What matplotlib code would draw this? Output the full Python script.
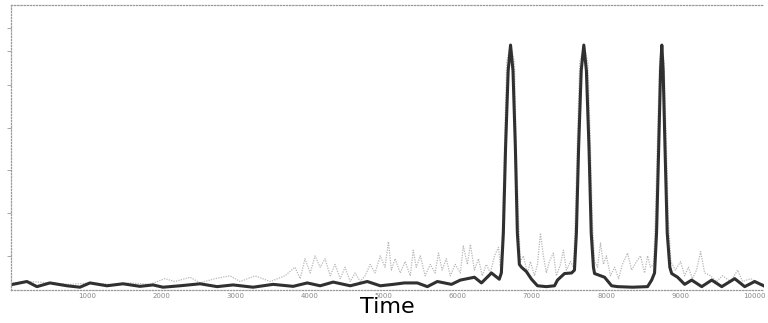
import matplotlib
matplotlib.use("Agg")
import matplotlib.pyplot as plt

# Dark trace (time, intensity)
dark_t = [0, 190, 325, 500, 730, 905, 1040, 1270, 1485, 1715, 1890, 2025, 2255, 2525,
          2755, 2970, 3240, 3510, 3780, 3970, 4145, 4320, 4550, 4780, 4955, 5130, 5280,
          5455, 5590, 5725, 5915, 6035, 6225, 6320, 6455, 6560,
          6588, 6615, 6645, 6680, 6712, 6745, 6777, 6804, 6831,
          6860, 6925, 6995, 7075, 7195, 7305, 7345, 7440, 7535,
          7574, 7600, 7630, 7665, 7700, 7735, 7770, 7800, 7830,
          7845, 7980, 8075, 8155, 8355, 8560, 8615,
          8654, 8681, 8710, 8735, 8752, 8770, 8795, 8825, 8860,
          8885, 8965, 9060, 9155, 9290, 9425, 9560, 9735, 9870, 10005, 10125]
dark_v = [2, 3, 1.2, 2.5, 1.5, 1, 2.5, 1.5, 2.2, 1.3, 1.8, 1.0, 1.5, 2.2,
          1.2, 1.8, 1.0, 2, 1.3, 2.5, 1.5, 2.8, 1.5, 3, 1.5, 2.0, 2.5,
          2.5, 1.2, 3, 2, 3.5, 4.5, 2.5, 6, 3.8,
          6, 20, 50, 77, 86, 77, 50, 20, 9,
          8, 6.5, 3.8, 1.5, 1.2, 1.5, 3.5, 5.8, 6,
          7, 20, 50, 77, 86, 77, 50, 20, 8,
          5.8, 4.5, 1.5, 1.2, 1, 1.2, 3.5,
          6, 20, 50, 77, 86, 77, 50, 20, 8,
          5.8, 4.5, 2, 3.5, 1.2, 3.5, 1.2, 4, 1.2, 3, 1.5]

# Light noisy trace (time, intensity)
light_t = [0, 230, 500, 770, 1040, 1310, 1580, 1850, 2050, 2185, 2390, 2525, 2725, 2930,
           3065, 3265, 3470, 3670, 3805, 3875, 3940, 4010, 4075, 4145, 4210, 4280, 4345,
           4415, 4480, 4550, 4615, 4685, 4750, 4820, 4885, 4955, 5020, 5065, 5105, 5155,
           5225, 5290, 5360, 5400, 5440, 5495, 5560, 5630, 5695, 5740, 5790, 5845, 5900,
           5965, 6035, 6075, 6130, 6170, 6225, 6280, 6330, 6385, 6440, 6495, 6550, 6575,
           6600, 6630, 6660, 6712, 6765, 6790, 6820, 6845,
           6885, 6940, 6980, 7035, 7075, 7115, 7155, 7195, 7235, 7290, 7330, 7385, 7425,
           7465, 7520, 7560,
           7585, 7615, 7645, 7700, 7755, 7785, 7815, 7845,
           7885, 7925, 7965, 8005, 8060, 8115, 8170, 8220, 8290, 8345, 8410, 8465, 8520,
           8560, 8600, 8640,
           8665, 8695, 8722, 8752, 8782, 8810, 8840, 8875,
           8935, 9005, 9060, 9110, 9165, 9220, 9275, 9330, 9410, 9490, 9570, 9680, 9775,
           9840, 9950, 10045, 10125]
light_v = [2.5, 3, 2.5, 2, 2.5, 2, 2.5, 2, 4, 3, 4.5, 2.5, 4, 5,
           3, 5, 3, 5, 8, 4, 11, 6, 12, 8, 11, 5, 9,
           4, 8, 3, 6, 3, 5, 9, 6, 12, 8, 17, 7, 11,
           6, 10, 5, 14, 8, 12, 5, 9, 6, 13, 7, 11, 5,
           9, 6, 15.5, 9, 16, 7, 11, 5, 9, 6, 12, 15, 8,
           20, 50, 80, 86, 80, 50, 25, 10,
           12, 6, 10, 5, 9, 20, 12, 6, 10, 13, 5, 9, 14,
           7, 10, 8,
           25, 55, 80, 86, 80, 55, 25, 10,
           8, 16.5, 9, 12, 5, 8, 4, 9, 13, 7, 10, 12, 6,
           12, 8, 9,
           25, 55, 80, 86, 80, 55, 25, 10,
           7, 10, 5, 8, 4, 7, 13.5, 6, 5, 3, 5, 3, 7,
           3, 4, 2.5, 2]

x_ticks = [1000, 2000, 3000, 4000, 5000, 6000, 7000, 8000, 9000, 10000]

fig = plt.figure(figsize=(7.68, 3.23), dpi=100)
ax = fig.add_axes([0.0143, 0.102, 0.98, 0.882])

ax.plot(light_t, light_v, color="#b8b8b8", lw=0.9, ls=(0, (1, 1)))
ax.plot(dark_t, dark_v, color="#303030", lw=2.2)

ax.set_xlim(-25, 10125)
ax.set_ylim(0, 100)

for side in ["left", "bottom", "top"]:
    ax.spines[side].set_linestyle((0, (1, 1.5)))
    ax.spines[side].set_color("#9a9a9a")
    ax.spines[side].set_linewidth(0.9)
ax.spines["right"].set_visible(False)

ax.set_xticks(x_ticks)
ax.set_xticklabels([str(v) for v in x_ticks], fontsize=5, color="#888888")
ax.tick_params(axis="x", length=0, pad=2)
ax.set_yticks([12, 27, 42, 57, 72, 84, 92])
ax.set_yticklabels([])
ax.tick_params(axis="y", length=3, width=0.6, color="#999999", direction="out")

ax.set_xlabel("Time", fontsize=16, labelpad=-1)

fig.savefig("out.png", dpi=100)
